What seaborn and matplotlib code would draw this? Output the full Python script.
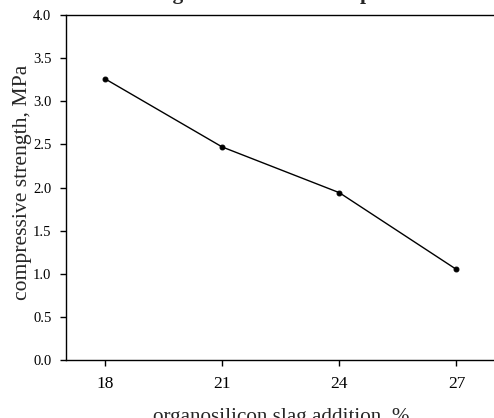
import matplotlib
matplotlib.use("Agg")
import matplotlib.pyplot as plt
import seaborn as sns
import pandas as pd

slag_addition = [18, 21, 24, 27]
compressive_strength = [3.26, 2.47, 1.94, 1.05]
x_ticks = [18, 21, 24, 27]
y_ticks = [0.0, 0.5, 1.0, 1.5, 2.0, 2.5, 3.0, 3.5, 4.0]

sns.set_theme(style="ticks")
plt.rcParams['font.family'] = ['Liberation Serif', 'DejaVu Serif']

df = pd.DataFrame({"x": slag_addition, "y": compressive_strength})

fig = plt.figure(figsize=(4.94, 4.18), dpi=100)
ax = fig.add_axes([66/494, 1 - 360/418, (495.5 - 66)/494, (360 - 15)/418])
sns.lineplot(data=df, x="x", y="y", ax=ax, color="black", linewidth=1.0,
             marker="o", markersize=3.5, markeredgecolor="black")
ax.set_xlim(17, 28)
ax.set_ylim(0, 4.0)
ax.set_xticks(x_ticks)
ax.set_xticklabels([str(v) for v in x_ticks])
ax.set_yticks(y_ticks)
ax.set_yticklabels([f"{v:.1f}" for v in y_ticks])
ax.tick_params(direction="out", length=4.5, width=1, colors="black")
ax.tick_params(axis="y", labelsize=10.5, pad=6)
ax.tick_params(axis="x", labelsize=12.5, pad=7)
for s in ax.spines.values():
    s.set_linewidth(1.0)
    s.set_color("black")
ax.set_xlabel("organosilicon slag addition, %", fontsize=15.2)
ax.xaxis.set_label_coords(0.5, -0.138)
ax.set_ylabel("compressive strength, MPa", fontsize=15.6)
ax.yaxis.set_label_coords(-0.078, 0.515)
fig.text(259/494, 1 + 1/418, "Strength of hardened samples", fontsize=15.4,
         fontweight="bold", ha="center", va="baseline")
fig.savefig("out.png", dpi=100)
